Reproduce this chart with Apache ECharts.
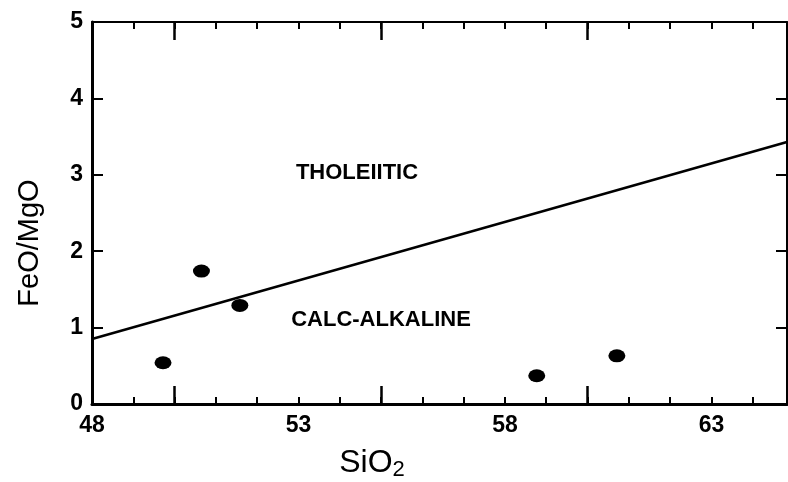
<!DOCTYPE html>
<html>
<head>
<meta charset="utf-8">
<script src="https://cdn.jsdelivr.net/npm/echarts@6/dist/echarts.min.js"></script>
<style>html,body{margin:0;padding:0;background:#fff;}#c{width:788px;height:482px;}</style>
</head>
<body>
<div id="c"></div>
<script>
// Data
const samples = [
  [49.72, 0.54],
  [50.65, 1.74],
  [51.58, 1.29],
  [58.77, 0.37],
  [60.71, 0.63]
];
const dividerLine = [[48, 0.85], [64.83, 3.43]];
const xLabelValues = [48, 53, 58, 63];
const xMajorTickValues = [50, 55, 60];
const yTickLabels = [0, 1, 2, 3, 4, 5];
const regionLabels = [
  { name: 'THOLEIITIC', x: 357, y: 173 },
  { name: 'CALC-ALKALINE', x: 381, y: 320 }
];

const X_MIN = 48, X_MAX = 64.83;
const font = 'Liberation Sans';

function xAx(pos, opts) {
  return Object.assign({
    type: 'value', position: pos, min: X_MIN, max: X_MAX, interval: 1,
    splitLine: { show: false },
    axisLabel: { show: false },
    axisLine: { show: false, onZero: false },
    axisTick: { show: true, inside: true, length: 7, lineStyle: { color: '#000', width: 2 } }
  }, opts);
}

const chart = echarts.init(document.getElementById('c'), null, { renderer: 'canvas' });
chart.setOption({
  backgroundColor: '#fff',
  animation: false,
  grid: { left: 92, right: 1, top: 22, bottom: 78, containLabel: false },
  xAxis: [
    xAx('bottom', {
      axisLine: { show: true, onZero: false, lineStyle: { color: '#000', width: 3 } },
      axisLabel: {
        show: true, customValues: xLabelValues, margin: 10,
        color: '#000', fontSize: 23, fontWeight: 'bold', fontFamily: font
      }
    }),
    xAx('bottom', {
      axisTick: { show: true, inside: true, length: 18, customValues: xMajorTickValues, lineStyle: { color: '#000', width: 2.5 } }
    }),
    xAx('top', {
      axisLine: { show: true, onZero: false, lineStyle: { color: '#000', width: 2 } }
    }),
    xAx('top', {
      axisTick: { show: true, inside: true, length: 18, customValues: xMajorTickValues, lineStyle: { color: '#000', width: 2.5 } }
    })
  ],
  yAxis: [
    {
      type: 'value', position: 'left', min: 0, max: 5, interval: 1,
      splitLine: { show: false },
      axisLine: { show: true, onZero: false, lineStyle: { color: '#000', width: 3 } },
      axisTick: { show: true, inside: true, length: 11, lineStyle: { color: '#000', width: 2 } },
      axisLabel: {
        show: true, margin: 9, color: '#000', fontSize: 23, fontWeight: 'bold', fontFamily: font,
        customValues: yTickLabels
      }
    },
    {
      type: 'value', position: 'right', min: 0, max: 5, interval: 1,
      splitLine: { show: false },
      axisLine: { show: true, onZero: false, lineStyle: { color: '#000', width: 2 } },
      axisTick: { show: true, inside: true, length: 11, lineStyle: { color: '#000', width: 2 } },
      axisLabel: { show: false }
    }
  ],
  series: [
    {
      type: 'line', xAxisIndex: 0, yAxisIndex: 0,
      data: dividerLine, symbol: 'none',
      lineStyle: { color: '#000', width: 2.5 }
    },
    {
      type: 'scatter', xAxisIndex: 0, yAxisIndex: 0,
      data: samples, symbol: 'circle', symbolSize: [17, 13],
      itemStyle: { color: '#000', opacity: 1 }
    }
  ],
  graphic: [
    {
      type: 'text', x: 372, y: 463,
      style: {
        text: '{m|SiO}{s|2}', align: 'center', verticalAlign: 'middle',
        rich: {
          m: { fontSize: 32, fontFamily: font, fill: '#000' },
          s: { fontSize: 22, fontFamily: font, fill: '#000', padding: [14, 0, 0, 0] }
        }
      }
    },
    {
      type: 'text', x: 30, y: 243, rotation: Math.PI / 2,
      style: {
        text: 'FeO/MgO', align: 'center', verticalAlign: 'middle',
        fontSize: 29, fontFamily: font, fill: '#000'
      }
    }
  ].concat(regionLabels.map(r => ({
    type: 'text', x: r.x, y: r.y,
    style: {
      text: r.name, align: 'center', verticalAlign: 'middle',
      fontSize: 22, fontWeight: 'bold', fontFamily: font, fill: '#000'
    }
  })))
});
</script>
</body>
</html>
